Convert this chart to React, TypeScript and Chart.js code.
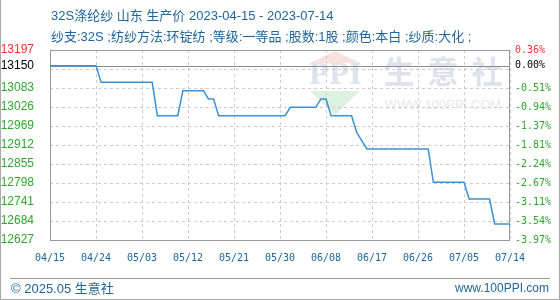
import React, { useEffect, useRef } from 'react';
import { Chart, registerables } from 'chart.js';

Chart.register(...registerables);

// ---- data ----
const TITLE = '32S涤纶纱 山东 生产价 2023-04-15 - 2023-07-14';
const SUBTITLE = '纱支:32S ;纺纱方法:环锭纺 ;等级:一等品 ;股数:1股 ;颜色:本白 ;纱质:大化 ;';
const FOOTER_LEFT = '© 2025.05 生意社';
const FOOTER_RIGHT = 'www.100PPI.com';

const START_DATE = '2023-04-15';
const END_DATE = '2023-07-14';

// vertices of the price line (dates where the price changes)
const priceDates = [
  '2023-04-15', '2023-04-24', '2023-04-25', '2023-05-05', '2023-05-06', '2023-05-10',
  '2023-05-11', '2023-05-15', '2023-05-16', '2023-05-17', '2023-05-18', '2023-05-31',
  '2023-06-01', '2023-06-06', '2023-06-07', '2023-06-08', '2023-06-09', '2023-06-13',
  '2023-06-14', '2023-06-15', '2023-06-16', '2023-06-28', '2023-06-29', '2023-07-05',
  '2023-07-06', '2023-07-10', '2023-07-11', '2023-07-14',
];
const priceValues = [
  13150, 13150, 13100, 13100, 13000, 13000,
  13075, 13075, 13050, 13050, 13000, 13000,
  13025, 13025, 13050, 13050, 13000, 13000,
  12950, 12925, 12900, 12900, 12800, 12800,
  12750, 12750, 12675, 12675,
];

const xTickLabels = ['04/15', '04/24', '05/03', '05/12', '05/21', '05/30', '06/08', '06/17', '06/26', '07/05', '07/14'];

const basePrice = 13150;
const yMin = 12627;
const yMax = 13197;
const leftTickValues = [12627, 12684, 12741, 12798, 12855, 12912, 12969, 13026, 13083, 13150, 13197];
const leftTickLabels = ['12627', '12684', '12741', '12798', '12855', '12912', '12969', '13026', '13083', '13150', '13197'];
const rightTickLabels = ['-3.97%', '-3.54%', '-3.11%', '-2.67%', '-2.24%', '-1.81%', '-1.37%', '-0.94%', '-0.51%', '0.00%', '0.36%'];
const gridValues = [12684, 12741, 12798, 12855, 12912, 12969, 13026, 13083, 13140];

// ---- helpers ----
const toUTC = (d: string) => {
  const [y, m, day] = d.split('-').map(Number);
  return Date.UTC(y, m - 1, day);
};
const dayOf = (d: string) => Math.round((toUTC(d) - toUTC(START_DATE)) / 86400000);
const xTickDays = xTickLabels.map((l) => dayOf('2023-' + l.replace('/', '-')));

const BLUE_TEXT = '#21669a';
const RED = '#ff3030';
const GREEN = '#2fa82f';
const tickColor = (v: number) => (v === yMax ? RED : v === basePrice ? '#000000' : GREEN);

const decorPlugin = {
  id: 'decor',
  beforeDraw(chart: any) {
    const ctx = chart.ctx;
    ctx.save();
    ctx.fillStyle = '#ffffff';
    ctx.fillRect(0, 0, chart.width, chart.height);

    // watermark
    ctx.fillStyle = '#f9e1de';
    ctx.beginPath();
    ctx.moveTo(310, 63); ctx.lineTo(360, 63); ctx.lineTo(335, 51); ctx.closePath(); ctx.fill();
    ctx.fillStyle = '#def1e0';
    ctx.beginPath();
    ctx.moveTo(310, 91); ctx.lineTo(360, 91); ctx.lineTo(335, 115); ctx.closePath(); ctx.fill();
    ctx.fillStyle = '#dfe3ee';
    ctx.font = 'bold 27px "DejaVu Serif"';
    ctx.textAlign = 'center';
    ctx.textBaseline = 'middle';
    ctx.fillText('PPI', 335, 77);
    ctx.fillStyle = '#dfe2ed';
    ctx.font = 'bold 31px "Noto Sans CJK SC"';
    const wm = ['生', '意', '社'];
    const wmx = [399, 443, 487];
    wm.forEach((c, i) => ctx.fillText(c, wmx[i], 71));
    ctx.fillStyle = '#e8e8e8';
    ctx.font = '13px "Liberation Sans"';
    ctx.fillText('WWW.100PPI.COM', 443, 105);

    // titles
    ctx.textAlign = 'left';
    ctx.fillStyle = BLUE_TEXT;
    ctx.font = '13px "Liberation Sans", "Noto Sans CJK SC"';
    ctx.fillText(TITLE, 51, 16);
    ctx.fillText(SUBTITLE, 51, 37);

    // footer
    ctx.font = '13px "Liberation Sans", "Noto Sans CJK SC"';
    ctx.fillText(FOOTER_LEFT, 11, 289);
    ctx.textAlign = 'right';
    ctx.font = '12px "Liberation Sans"';
    ctx.fillText(FOOTER_RIGHT, 549, 289);

    ctx.strokeStyle = '#999999';
    ctx.lineWidth = 1;
    ctx.beginPath();
    ctx.moveTo(10, 278.5); ctx.lineTo(550, 278.5);
    ctx.stroke();

    ctx.strokeStyle = '#aaaaaa';
    ctx.beginPath();
    ctx.moveTo(0.5, 0); ctx.lineTo(0.5, 299.5); ctx.lineTo(559.5, 299.5); ctx.lineTo(559.5, 0);
    ctx.stroke();
    ctx.restore();
  },
  beforeDatasetsDraw(chart: any) {
    const ctx = chart.ctx;
    const a = chart.chartArea;
    const y = chart.scales.y.getPixelForValue(basePrice);
    ctx.save();
    ctx.strokeStyle = '#8c8c8c';
    ctx.lineWidth = 1;
    ctx.beginPath();
    ctx.moveTo(a.left, Math.round(y) + 0.5);
    ctx.lineTo(a.right, Math.round(y) + 0.5);
    ctx.stroke();
    ctx.strokeStyle = '#999999';
    ctx.strokeRect(a.left + 0.5, a.top + 0.5, a.right - a.left - 1, a.bottom - a.top);
    ctx.restore();
  },
};

export default function App() {
  const ref = useRef<HTMLCanvasElement>(null);
  useEffect(() => {
    document.body.style.margin = '0';
    const points = priceDates.map((d, i) => ({ x: dayOf(d), y: priceValues[i] }));
    const chart = new Chart(ref.current as HTMLCanvasElement, {
      type: 'line',
      data: {
        datasets: [
          {
            data: points,
            borderColor: '#3a92d4',
            borderWidth: 1.5,
            pointRadius: 0,
            tension: 0,
            fill: false,
          },
        ],
      },
      plugins: [decorPlugin],
      options: {
        responsive: false,
        animation: false,
        devicePixelRatio: 1,
        layout: { padding: { top: 50, left: 0, right: 0, bottom: 0 } },
        plugins: { legend: { display: false }, tooltip: { enabled: false } },
        scales: {
          x: {
            type: 'linear',
            position: 'bottom',
            min: 0,
            max: dayOf(END_DATE),
            afterBuildTicks: (axis: any) => {
              axis.ticks = xTickDays.map((v) => ({ value: v }));
            },
            afterFit: (axis: any) => {
              axis.height = 60;
            },
            grid: { color: '#cccccc', drawTicks: false, lineWidth: 1 },
            border: { display: false, dash: [3, 3] },
            ticks: {
              padding: 12,
              autoSkip: false,
              maxRotation: 0,
              color: BLUE_TEXT,
              font: { family: '"DejaVu Sans Mono"', size: 10 },
              callback: (_v: any, i: number) => xTickLabels[i],
            },
          },
          yGrid: {
            type: 'linear',
            position: 'left',
            min: yMin,
            max: yMax,
            afterBuildTicks: (axis: any) => {
              axis.ticks = gridValues.map((v) => ({ value: v }));
            },
            afterFit: (axis: any) => {
              axis.width = 0;
            },
            grid: { color: '#cccccc', drawTicks: false, lineWidth: 1 },
            border: { display: false, dash: [3, 3] },
            ticks: { display: false },
          },
          y: {
            type: 'linear',
            position: 'left',
            min: yMin,
            max: yMax,
            afterBuildTicks: (axis: any) => {
              axis.ticks = leftTickValues.map((v) => ({ value: v }));
            },
            afterFit: (axis: any) => {
              axis.width = 50;
            },
            grid: { display: false, drawTicks: false },
            border: { display: false },
            ticks: {
              padding: 16,
              autoSkip: false,
              font: { family: '"Liberation Sans"', size: 12 },
              color: (c: any) => tickColor(c.tick ? c.tick.value : 0),
              callback: (_v: any, i: number) => leftTickLabels[i],
            },
          },
          yRight: {
            type: 'linear',
            position: 'right',
            min: yMin,
            max: yMax,
            afterBuildTicks: (axis: any) => {
              axis.ticks = leftTickValues.map((v) => ({ value: v }));
            },
            afterFit: (axis: any) => {
              axis.width = 50;
            },
            grid: { display: false, drawTicks: false },
            border: { display: false },
            ticks: {
              padding: 5,
              autoSkip: false,
              font: { family: '"DejaVu Sans Mono"', size: 10 },
              color: (c: any) => tickColor(c.tick ? c.tick.value : 0),
              callback: (_v: any, i: number) => rightTickLabels[i],
            },
          },
        },
      } as any,
    });
    return () => chart.destroy();
  }, []);
  return <canvas ref={ref} width={560} height={300} style={{ display: 'block', width: 560, height: 300 }} />;
}
